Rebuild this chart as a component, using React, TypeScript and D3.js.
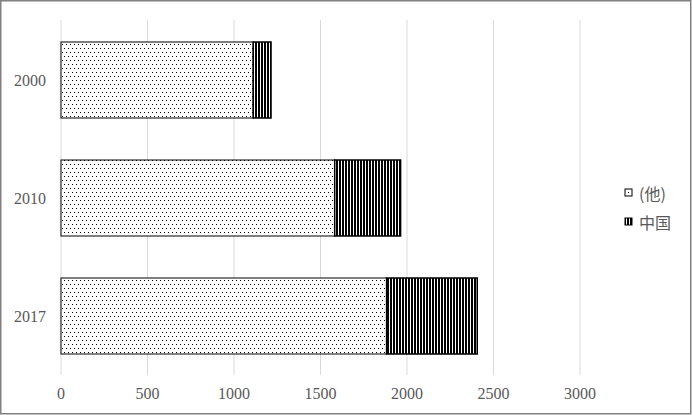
import React from "react";
import * as d3 from "d3";

const categories = ["2000", "2010", "2017"];
const seriesNames = ["(他)", "中国"];
const otherValues = [1111, 1582, 1882];
const chinaValues = [103, 381, 524];
const xTicks = [0, 500, 1000, 1500, 2000, 2500, 3000];

const W = 692;
const H = 415;

export default function App() {
  const x = d3.scaleLinear().domain([0, 3000]).range([61, 580]);
  const y = d3.scaleBand<string>().domain(categories).range([21, 375]).paddingInner(0.356).paddingOuter(0.178);
  const bh = y.bandwidth();
  const fills = ["url(#dots)", "url(#stripes)"];
  const serif = "'Liberation Serif', 'DejaVu Serif', serif";
  const cjk = "'Noto Sans CJK JP', sans-serif";

  return (
    <svg width={W} height={H} style={{ position: "absolute", left: 0, top: 0, background: "#fff" }}>
      <defs>
        <pattern id="dots" width={4} height={8} patternUnits="userSpaceOnUse">
          <rect width={4} height={8} fill="#fff" />
          <rect x={0} y={0} width={1} height={1} fill="#000" />
          <rect x={2} y={4} width={1} height={1} fill="#000" />
        </pattern>
        <pattern id="stripes" width={3} height={4} patternUnits="userSpaceOnUse">
          <rect width={3} height={4} fill="#fff" />
          <rect x={0} y={0} width={2} height={4} fill="#000" />
        </pattern>
      </defs>
      <rect x={0.75} y={0.75} width={W - 2} height={H - 2} fill="#fff" stroke="#808080" strokeWidth={1.5} />
      {xTicks.map((t) => (
        <g key={t}>
          <line x1={x(t)} x2={x(t)} y1={20} y2={375} stroke="#d9d9d9" strokeWidth={1} />
          <text x={x(t)} y={393} textAnchor="middle" dominantBaseline="central" fontFamily={serif} fontSize={16} fill="#595959">
            {t}
          </text>
        </g>
      ))}
      {categories.map((c, i) => {
        const y0 = y(c)!;
        const o = otherValues[i];
        const ch = chinaValues[i];
        return (
          <g key={c}>
            <rect x={x(0)} y={y0} width={x(o) - x(0)} height={bh} fill={fills[0]} stroke="#000" strokeWidth={1} />
            <rect x={x(o)} y={y0} width={x(o + ch) - x(o)} height={bh} fill={fills[1]} stroke="#000" strokeWidth={1.5} />
            <text x={30} y={y0 + bh / 2} textAnchor="middle" dominantBaseline="central" fontFamily={serif} fontSize={16} fill="#595959">
              {c}
            </text>
          </g>
        );
      })}
      {seriesNames.map((s, i) => (
        <g key={s}>
          <rect x={625} y={189 + i * 29} width={7} height={7} fill={fills[i]} stroke="#000" strokeWidth={1} />
          <text x={639} y={193 + i * 29} dominantBaseline="central" fontFamily={cjk} fontSize={16} fill="#595959">
            {s}
          </text>
        </g>
      ))}
    </svg>
  );
}
